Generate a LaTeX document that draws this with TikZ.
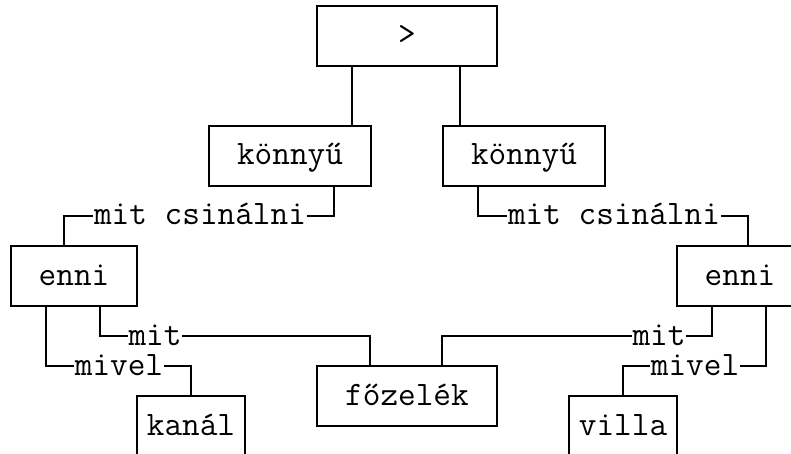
\documentclass[tikz,border=0pt]{standalone}
\usepackage{fontspec}
\begin{document}
\begin{tikzpicture}[x=1pt,y=-1pt, line width=1.8pt,
  wordbox/.style={draw, minimum height=60pt, inner sep=0pt,
    text height=18pt, text depth=0pt, font=\ttfamily\fontsize{34.29}{40}\selectfont},
  edgelabel/.style={inner sep=0pt, text height=18pt, text depth=0pt,
    font=\ttfamily\fontsize{34.29}{40}\selectfont}]
\useasboundingbox (0,0) rectangle (791,454);
\clip (0,0) rectangle (791,454);
% boxes
\node[wordbox, minimum width=180pt] (gt) at (407,36) {>};
\node[wordbox, minimum width=162pt] (k1) at (290,156) {könnyű};
\node[wordbox, minimum width=162pt] (k2) at (524,156) {könnyű};
\node[wordbox, minimum width=126pt] (e1) at (74,276) {enni};
\node[wordbox, minimum width=126pt] (e2) at (740,276) {enni};
\node[wordbox, minimum width=180pt] (f) at (407,396) {főzelék};
\node[wordbox, minimum width=108pt] (kanal) at (191,426) {kanál};
\node[wordbox, minimum width=108pt] (villa) at (623,426) {villa};
% labels
\node[edgelabel] (l1) at (200,216) {mit csinálni};
\node[edgelabel] (l2) at (614,216) {mit csinálni};
\node[edgelabel] (l3) at (155,336) {mit};
\node[edgelabel] (l4) at (119,366) {mivel};
\node[edgelabel] (l5) at (659,336) {mit};
\node[edgelabel] (l6) at (695,366) {mivel};
% connectors
\draw ([xshift=36pt]gt.south west) -- ([xshift=36pt]gt.south west |- k1.north);
\draw ([xshift=144pt]gt.south west) -- ([xshift=144pt]gt.south west |- k2.north);
\draw ([xshift=126pt]k1.south west) |- (l1.east);
\draw (l1.west) -| ([xshift=54pt]e1.north west);
\draw ([xshift=36pt]k2.south west) |- (l2.west);
\draw (l2.east) -| ([xshift=72pt]e2.north west);
\draw ([xshift=90pt]e1.south west) |- (l3.west);
\draw (l3.east) -| ([xshift=54pt]f.north west);
\draw ([xshift=36pt]e1.south west) |- (l4.west);
\draw (l4.east) -| (kanal.north);
\draw ([xshift=36pt]e2.south west) |- (l5.east);
\draw (l5.west) -| ([xshift=126pt]f.north west);
\draw ([xshift=90pt]e2.south west) |- (l6.east);
\draw (l6.west) -| (villa.north);
\end{tikzpicture}
\end{document}
